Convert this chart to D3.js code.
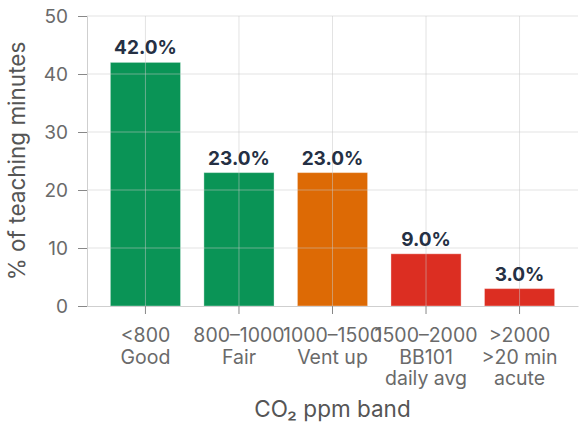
<!DOCTYPE html>
<html>
<head>
<meta charset="utf-8">
<script src="https://cdn.jsdelivr.net/npm/d3@7"></script>
<style>
  body { margin: 0; background: #fff; }
  svg text { font-family: Inter, "Noto Sans", sans-serif; }
</style>
</head>
<body>
<div id="chart"></div>
<script>
// data
const bands = ["<800\nGood", "800–1000\nFair", "1000–1500\nVent up", "1500–2000\nBB101\ndaily avg", ">2000\n>20 min\nacute"];
const shares = [42.0, 23.0, 23.0, 9.0, 3.0];
const barColors = ["#0a9456", "#0a9456", "#dd6a05", "#dc2e22", "#dc2e22"];
const yTicks = [0, 10, 20, 30, 40, 50];

const margin = { top: 16, right: 1, bottom: 119, left: 87 },
    width = 579 - margin.left - margin.right,
    height = 425 - margin.top - margin.bottom;

const svg = d3.select("#chart")
    .append("svg")
    .attr("width", width + margin.left + margin.right)
    .attr("height", height + margin.top + margin.bottom)
    .append("g")
    .attr("transform", `translate(${margin.left},${margin.top})`);

const x = d3.scaleBand()
    .domain(bands)
    .range([0, width])
    .padding(0.25);

const y = d3.scaleLinear()
    .domain([0, 50])
    .range([height, 0]);

// bars
svg.selectAll(".bar")
    .data(shares)
    .join("rect")
    .attr("x", (d, i) => x(bands[i]))
    .attr("y", d => y(d))
    .attr("width", x.bandwidth())
    .attr("height", d => height - y(d))
    .attr("fill", (d, i) => barColors[i])
    .attr("stroke", "rgba(255,255,255,0.35)")
    .attr("stroke-width", 1);

// grid drawn over the bars
svg.append("g")
    .selectAll("line")
    .data(yTicks.slice(1))
    .join("line")
    .attr("x1", 0).attr("x2", width)
    .attr("y1", d => y(d)).attr("y2", d => y(d))
    .attr("stroke", "rgba(200,200,200,0.5)");
svg.append("g")
    .selectAll("line")
    .data(bands)
    .join("line")
    .attr("x1", d => x(d) + x.bandwidth() / 2).attr("x2", d => x(d) + x.bandwidth() / 2)
    .attr("y1", 0).attr("y2", height)
    .attr("stroke", "rgba(200,200,200,0.5)");

// y axis
const yAxis = svg.append("g")
    .call(d3.axisLeft(y).tickValues(yTicks).tickSize(9).tickPadding(10));
yAxis.select(".domain").attr("stroke", "#cfcfcf");
yAxis.selectAll(".tick line").attr("stroke", "#888");
yAxis.selectAll(".tick text")
    .attr("fill", "#6a6a6a")
    .style("font-size", "19px");

// x axis
const xAxis = svg.append("g")
    .attr("transform", `translate(0,${height})`)
    .call(d3.axisBottom(x).tickSize(8).tickSizeOuter(0));
xAxis.select(".domain").attr("stroke", "#cfcfcf");
xAxis.selectAll(".tick line").attr("stroke", "#888");
xAxis.selectAll(".tick text").each(function (d) {
    const t = d3.select(this);
    t.text(null)
        .attr("fill", "#6a6a6a")
        .style("font-size", "19.5px")
        .attr("y", 0)
        .attr("dy", null);
    d.split("\n").forEach((line, i) => {
        t.append("tspan")
            .attr("x", 0)
            .attr("y", 36 + i * 21.7)
            .text(line);
    });
});

// value labels
svg.selectAll(".label")
    .data(shares)
    .join("text")
    .attr("x", (d, i) => x(bands[i]) + x.bandwidth() / 2)
    .attr("y", d => y(d) - 8)
    .attr("text-anchor", "middle")
    .attr("fill", "#253044")
    .style("font-size", "19px")
    .style("font-weight", "700")
    .text(d => d.toFixed(1) + "%");

// axis titles
svg.append("text")
    .attr("transform", `translate(${-margin.left + 25},${height / 2}) rotate(-90)`)
    .attr("text-anchor", "middle")
    .attr("fill", "#555")
    .style("font-size", "22.5px")
    .text("% of teaching minutes");

svg.append("text")
    .attr("x", width / 2)
    .attr("y", height + 111)
    .attr("text-anchor", "middle")
    .attr("fill", "#555")
    .style("font-size", "22.5px")
    .text("CO₂ ppm band");
</script>
</body>
</html>
